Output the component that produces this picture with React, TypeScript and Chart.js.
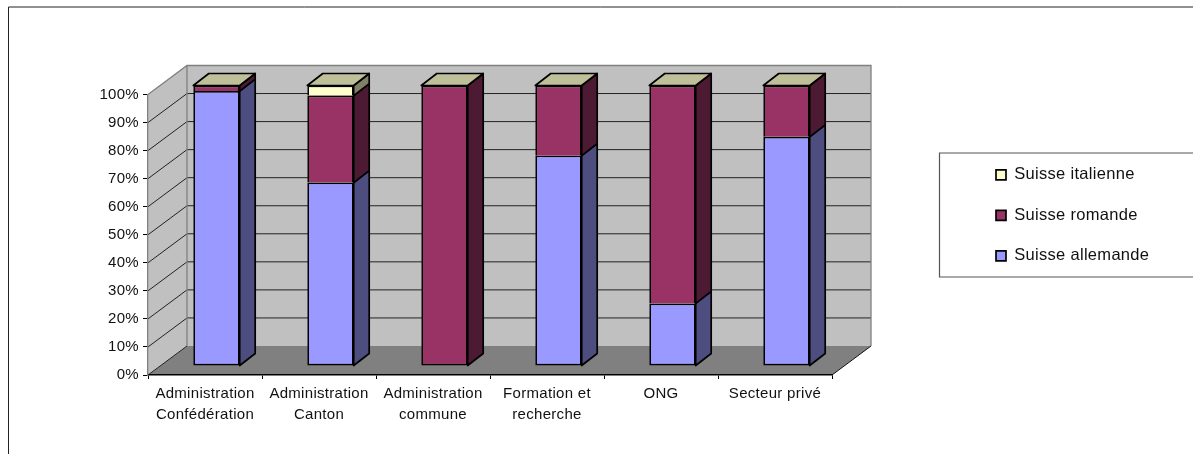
import React, { useEffect, useRef } from "react";
import { Chart, registerables } from "chart.js";

Chart.register(...registerables);

const categories = [
  ["Administration", "Confédération"],
  ["Administration", "Canton"],
  ["Administration", "commune"],
  ["Formation et", "recherche"],
  ["ONG"],
  ["Secteur privé"],
];
const suisseAllemande = [98, 65.4, 0, 75, 22.3, 81.7];
const suisseRomande = [2, 31, 100, 25, 77.7, 18.3];
const suisseItalienne = [0, 3.6, 0, 0, 0, 0];

const FONT = "'Liberation Sans', Arial, sans-serif";

const walls = {
  id: "walls",
  afterLayout(chart: any) {
    const l = chart.legend;
    l.left = 972;
    l.top = 142.55;
    l.right = 1193;
    l.bottom = 300;
  },
  beforeDraw(chart: any) {
    const { ctx, chartArea: a, scales } = chart;
    const y = scales.y;
    const dx = 39;
    const dy = 29;
    ctx.letterSpacing = "0.3px";
    ctx.save();
    // outer chart frame
    ctx.strokeStyle = "#222";
    ctx.lineWidth = 1;
    ctx.beginPath();
    ctx.moveTo(8.5, 454);
    ctx.lineTo(8.5, 7);
    ctx.lineTo(1193, 7);
    ctx.stroke();
    // legend frame
    ctx.strokeStyle = "#555";
    ctx.lineWidth = 1.2;
    ctx.beginPath();
    ctx.moveTo(1194, 153);
    ctx.lineTo(939.5, 153);
    ctx.lineTo(939.5, 277);
    ctx.lineTo(1194, 277);
    ctx.stroke();

    const y0 = y.getPixelForValue(0);
    const y100 = y.getPixelForValue(100);
    // back wall and side wall
    ctx.fillStyle = "#c0c0c0";
    ctx.fillRect(a.left + dx, y100 - dy, a.right - a.left, y0 - y100);
    ctx.beginPath();
    ctx.moveTo(a.left, y100);
    ctx.lineTo(a.left + dx, y100 - dy);
    ctx.lineTo(a.left + dx, y0 - dy);
    ctx.lineTo(a.left, y0);
    ctx.closePath();
    ctx.fill();
    // floor
    ctx.fillStyle = "#808080";
    ctx.beginPath();
    ctx.moveTo(a.left, y0);
    ctx.lineTo(a.left + dx, y0 - dy);
    ctx.lineTo(a.right + dx, y0 - dy);
    ctx.lineTo(a.right, y0);
    ctx.closePath();
    ctx.fill();
    // grid lines
    ctx.strokeStyle = "#222";
    ctx.lineWidth = 1;
    for (const t of y.ticks) {
      const p = y.getPixelForValue(t.value);
      if (t.value === 100) continue;
      ctx.beginPath();
      ctx.moveTo(a.left, p);
      ctx.lineTo(a.left + dx, p - dy);
      if (t.value > 0) ctx.lineTo(a.right + dx, p - dy);
      ctx.stroke();
    }
    // wall edges
    ctx.strokeStyle = "#808080";
    ctx.lineWidth = 1.3;
    ctx.beginPath();
    ctx.moveTo(a.left, y100);
    ctx.lineTo(a.left + dx, y100 - dy);
    ctx.lineTo(a.right + dx, y100 - dy);
    ctx.lineTo(a.right + dx, y0 - dy);
    ctx.moveTo(a.left + dx, y100 - dy);
    ctx.lineTo(a.left + dx, y0 - dy);
    ctx.stroke();
    ctx.strokeStyle = "#111";
    ctx.lineWidth = 1;
    ctx.beginPath();
    ctx.moveTo(a.right, y0);
    ctx.lineTo(a.right + dx, y0 - dy);
    ctx.stroke();
    ctx.restore();
  },
  beforeDatasetsDraw(chart: any) {
    chart.ctx.save();
    chart.ctx.translate(11.5, -9);
  },
  afterDatasetsDraw(chart: any) {
    const { ctx } = chart;
    const dx = 15.5;
    const dy = 12;
    ctx.lineWidth = 1.7;
    ctx.strokeStyle = "#000";
    ctx.lineJoin = "round";
    const tops: any[] = [];
    chart.data.datasets.forEach((ds: any, i: number) => {
      chart.getDatasetMeta(i).data.forEach((el: any, j: number) => {
        if (!ds.data[j]) return;
        const r = el.x + el.width / 2;
        ctx.fillStyle = ds.sideColor;
        ctx.beginPath();
        ctx.moveTo(r, el.y);
        ctx.lineTo(r + dx, el.y - dy);
        ctx.lineTo(r + dx, el.base - dy);
        ctx.lineTo(r, el.base);
        ctx.closePath();
        ctx.fill();
        ctx.stroke();
        tops[j] = el;
      });
    });
    const last = chart.data.datasets[chart.data.datasets.length - 1];
    tops.forEach((el: any) => {
      const l = el.x - el.width / 2;
      const r = el.x + el.width / 2;
      ctx.fillStyle = last.topColor;
      ctx.beginPath();
      ctx.moveTo(l, el.y);
      ctx.lineTo(r, el.y);
      ctx.lineTo(r + dx, el.y - dy);
      ctx.lineTo(l + dx, el.y - dy);
      ctx.closePath();
      ctx.fill();
      ctx.stroke();
    });
    ctx.restore();
  },
};

export default function App() {
  const ref = useRef<HTMLCanvasElement>(null);
  useEffect(() => {
    const chart = new Chart(ref.current as HTMLCanvasElement, {
      type: "bar",
      data: {
        labels: categories,
        datasets: [
          {
            label: "Suisse allemande",
            data: suisseAllemande,
            backgroundColor: "#9999ff",
            sideColor: "#4d4d80",
            borderSkipped: false,
          },
          {
            label: "Suisse romande",
            data: suisseRomande,
            backgroundColor: "#993366",
            sideColor: "#4d1a33",
            borderSkipped: (c: any) => (suisseAllemande[c.dataIndex] ? "start" : false),
          },
          {
            label: "Suisse italienne",
            data: suisseItalienne,
            backgroundColor: "#ffffcc",
            sideColor: "#808066",
            topColor: "#bfbf99",
            borderSkipped: "start",
          },
        ] as any,
      },
      options: {
        animation: false,
        responsive: false,
        devicePixelRatio: 1,
        layout: { padding: { left: 0, top: 94.5, right: 361, bottom: 0 } },
        datasets: {
          bar: {
            categoryPercentage: 1,
            barPercentage: 0.407,
            borderColor: "#000",
            borderWidth: 1.7,
            clip: false,
          },
        } as any,
        plugins: {
          tooltip: { enabled: false },
          title: { display: false },
          legend: {
            display: true,
            position: "chartArea",
            align: "start",
            reverse: true,
            labels: {
              boxWidth: 10,
              boxHeight: 10,
              padding: 24,
              color: "#111",
              font: { family: FONT, size: 16.5 },
            },
          },
        },
        scales: {
          x: {
            stacked: true,
            afterFit: (s: any) => {
              s.height = 79;
            },
            grid: { drawOnChartArea: false, tickColor: "#000", tickLength: 4 },
            border: { color: "#000", width: 1.5 },
            ticks: {
              color: "#111",
              autoSkip: false,
              maxRotation: 0,
              padding: 4,
              font: { family: FONT, size: 15, lineHeight: 1.4 },
            },
          },
          y: {
            stacked: true,
            min: 0,
            max: 100,
            afterFit: (s: any) => {
              s.width = 148;
            },
            grid: { drawOnChartArea: false, tickColor: "#000", tickLength: 5 },
            border: { color: "#808080", width: 1.3 },
            ticks: {
              stepSize: 10,
              color: "#111",
              padding: 4,
              font: { family: FONT, size: 15 },
              callback: (v: any) => `${v}%`,
            },
          },
        },
      },
      plugins: [walls],
    } as any);
    return () => chart.destroy();
  }, []);
  return (
    <div style={{ position: "absolute", left: 0, top: 0, background: "#fff" }}>
      <canvas ref={ref} width={1193} height={454} style={{ display: "block" }} />
    </div>
  );
}
